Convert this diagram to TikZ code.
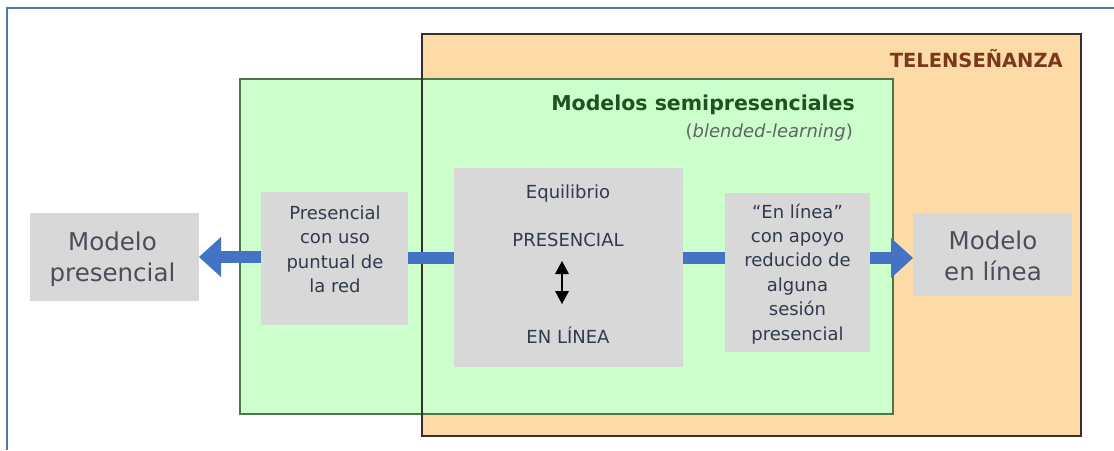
\documentclass[tikz,border=0pt]{standalone}
\usepackage{fontspec}
\setmainfont{DejaVu Sans}
\usetikzlibrary{arrows.meta}
\definecolor{framblue}{RGB}{79,120,168}
\definecolor{orfill}{RGB}{252,219,167}
\definecolor{ordraw}{RGB}{55,48,40}
\definecolor{grfill}{RGB}{204,255,204}
\definecolor{grdraw}{RGB}{78,118,78}
\definecolor{boxgray}{RGB}{217,216,216}
\definecolor{arrblue}{RGB}{68,114,196}
\definecolor{txtdark}{RGB}{48,58,78}
\definecolor{txtmod}{RGB}{72,78,90}
\definecolor{txtgreen}{RGB}{28,84,32}
\definecolor{txtbrown}{RGB}{122,56,28}
\definecolor{txtgrey}{RGB}{95,100,100}
\tikzset{
  graybox/.style={fill=boxgray, draw=none, inner sep=0pt, outer sep=0pt},
  smalltxt/.style={inner sep=0pt, align=center, text=txtdark, font=\fontsize{18}{24.5}\selectfont},
  bigtxt/.style={inner sep=0pt, align=center, text=txtmod, font=\fontsize{24.5}{31}\selectfont},
  bluebar/.style={draw=arrblue, line width=12pt},
  bluearrow/.style={draw=arrblue, fill=arrblue, line width=12pt, -{Triangle[length=22pt,width=40pt,line width=0pt]}},
  updown/.style={draw=black, line width=2pt, {Triangle[length=13pt,width=14pt,line width=0pt]}-{Triangle[length=13pt,width=14pt,line width=0pt]}},
}
\begin{document}
\begin{tikzpicture}[x=1pt,y=-1pt]
\useasboundingbox (0,0) rectangle (1114,450);
\fill[white] (0,0) rectangle (1114,450);
% outer frame
\coordinate (ftr) at (1114,8);
\coordinate (ftl) at (7,8);
\coordinate (fbl) at (7,450);
\draw[framblue, line width=2.5pt] (ftr) -- (ftl) -- (fbl);
% TELENSEÑANZA box
\node[fill=orfill, inner sep=0pt, outer sep=0pt, minimum width=659pt, minimum height=402pt] (tele) at (751.5,235) {};
% semipresenciales box
\node[fill=grfill, draw=grdraw, line width=2pt, inner sep=0pt, outer sep=0pt, minimum width=653pt, minimum height=335pt] (semi) at (566.5,246.5) {};
\draw[ordraw, line width=2.6pt] (tele.north west) rectangle (tele.south east);
% titles
\node[anchor=base east, inner sep=0pt, text=txtbrown, font=\fontsize{19.5}{22}\selectfont\bfseries] (teletitle) at (1063,67) {TELENSEÑANZA};
\node[anchor=base east, inner sep=0pt, text=txtgreen, font=\fontsize{20.5}{24}\selectfont\bfseries] (semititle) at (855,110) {Modelos semipresenciales};
\node[anchor=base east, inner sep=0pt, text=txtgrey, font=\fontsize{18}{22}\selectfont] (semisub) at (853,137) {(\textit{blended-learning})};
% gray boxes
\node[graybox, minimum width=169pt, minimum height=88pt] (mp) at (114.5,257) {};
\node[graybox, minimum width=147pt, minimum height=133pt] (pc) at (334.5,258.5) {};
\node[graybox, minimum width=229pt, minimum height=199pt] (eq) at (568.5,267.5) {};
\node[graybox, minimum width=145pt, minimum height=159pt] (el) at (797.5,272.5) {};
\node[graybox, minimum width=159pt, minimum height=83pt] (ml) at (992.5,254.5) {};
% texts
\node[bigtxt] (mpt) at (112.5,259.6) {Modelo\\presencial};
\node[bigtxt] (mlt) at (993,255.5) {Modelo\\en línea};
\node[smalltxt] (pct) at (335,249.4) {Presencial\\con uso\\puntual de\\la red};
\node[smalltxt, font=\fontsize{18}{24.4}\selectfont] (elt) at (797.5,273.7) {“En línea”\\con apoyo\\reducido de\\alguna\\sesión\\presencial};
\node[smalltxt, anchor=base] (eq1) at (568,198) {Equilibrio};
\node[smalltxt, anchor=base] (eq2) at (568,246) {PRESENCIAL};
\node[smalltxt, anchor=base] (eq3) at (568,343) {EN LÍNEA};
\coordinate (ua) at (562,261);
\coordinate (ub) at (562,304);
\draw[updown] (ua) -- (ub);
% connectors
\draw[bluearrow] (pc.west |- 0,257) -- (mp.east |- 0,257);
\draw[bluebar] (pc.east |- 0,258) -- (eq.west |- 0,258);
\draw[bluebar] (eq.east |- 0,258) -- (el.west |- 0,258);
\draw[bluearrow] (el.east |- 0,258) -- (ml.west |- 0,258);
\end{tikzpicture}
\end{document}
